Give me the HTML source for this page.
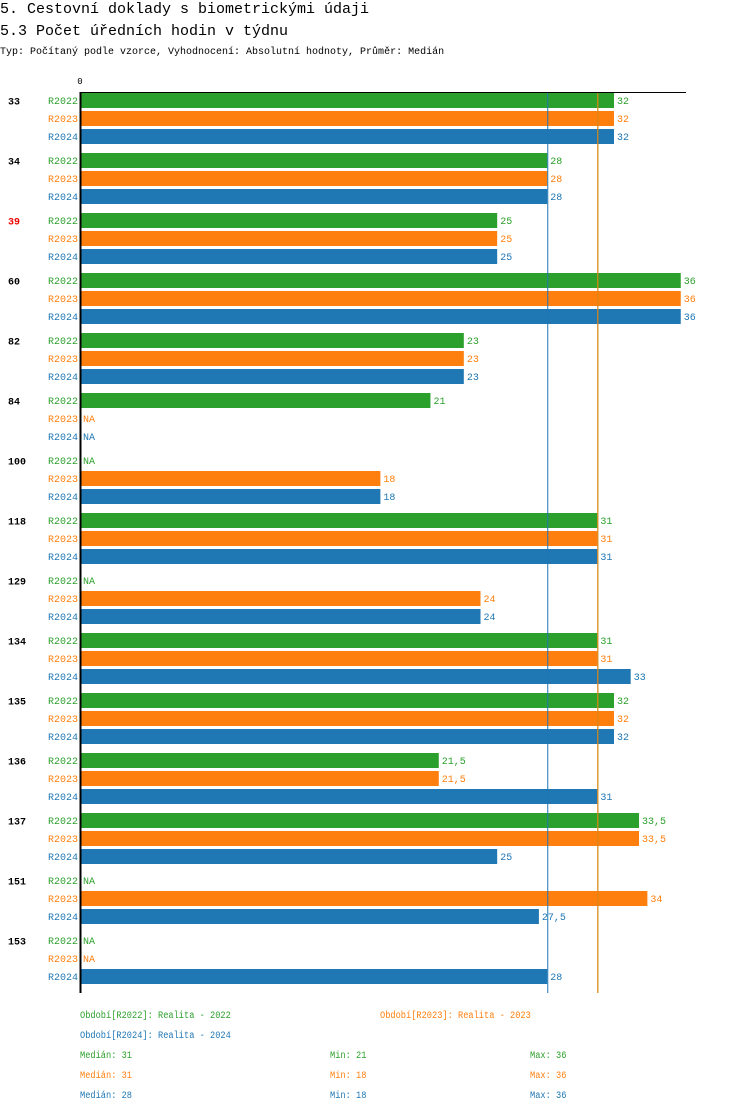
<!DOCTYPE html>
<html><head><meta charset="utf-8">
<style>
html,body{margin:0;padding:0;background:#fff;}
body{width:750px;height:1112px;overflow:hidden;}
svg{display:block;font-family:"Liberation Mono","DejaVu Sans Mono",monospace;}
</style></head>
<body>
<svg id="chart" width="750" height="1112" viewBox="0 0 750 1112">
<text x="0" y="13" font-size="15" fill="#000">5. Cestovní doklady s biometrickými údaji</text>
<text x="0" y="35" font-size="15" fill="#000">5.3 Počet úředních hodin v týdnu</text>
<text x="0" y="54" font-size="10" fill="#000">Typ: Počítaný podle vzorce, Vyhodnocení: Absolutní hodnoty, Průměr: Medián</text>
<text x="80" y="84" font-size="9" text-anchor="middle" fill="#000">0</text>
<g id="marks"></g>
<line x1="80" y1="92.5" x2="686" y2="92.5" stroke="#000" stroke-width="1"/>
<line x1="80.5" y1="92" x2="80.5" y2="993" stroke="#000" stroke-width="2"/>
<g id="legend"></g>
</svg>
<script>
const categories=["33","34","39","60","82","84","100","118","129","134","135","136","137","151","153"];
const highlighted=["39"];
const series=["R2022","R2023","R2024"];
const r2022=[32,28,25,36,23,21,null,31,null,31,32,21.5,33.5,null,null];
const r2023=[32,28,25,36,23,null,18,31,24,31,32,21.5,33.5,34,null];
const r2024=[32,28,25,36,23,null,18,31,24,33,32,31,25,27.5,28];
const medians=[31,31,28];
const mins=[21,18,18];
const maxs=[36,36,36];
const colors=["#2ca02c","#ff7f0e","#1f77b4"];
const NS="http://www.w3.org/2000/svg";
const x0=80, unit=(614-80)/32;
const xs=v=>x0+v*unit;
const rowY=(g,s)=>100.5+g*60+s*18;
const fmt=v=>String(v).replace('.',',');
const marks=document.getElementById('marks');
function mk(tag,attrs){const e=document.createElementNS(NS,tag);for(const k in attrs)e.setAttribute(k,attrs[k]);return e;}
const all=[r2022,r2023,r2024];
categories.forEach((c,g)=>{
  const t=mk('text',{x:8,y:rowY(g,0)+4,'font-size':10,'font-weight':'bold',fill:highlighted.includes(c)?'#e00':'#000'});
  t.textContent=c;
  
  
  marks.appendChild(t);
  series.forEach((s,si)=>{
    const y=rowY(g,si);
    const lab=mk('text',{x:78,y:y+3.5,'font-size':10,'text-anchor':'end',fill:colors[si]});
    lab.textContent=s;
    
    
    marks.appendChild(lab);
    const v=all[si][g];
    let endX=x0;
    if(v!==null){
      const r=mk('rect',{x:x0,y:y-7.5,width:xs(v)-x0,height:15,fill:colors[si]});
      
      
      marks.appendChild(r);
      endX=xs(v);
    }
    const vt=mk('text',{x:endX+3,y:y+3.5,'font-size':10,fill:colors[si]});
    vt.textContent=v===null?'NA':fmt(v);
    
    
    marks.appendChild(vt);
  });
});
[0,1,2].forEach(si=>{
  const l=mk('line',{x1:xs(medians[si])+0.5,x2:xs(medians[si])+0.5,y1:92,y2:993,stroke:colors[si],'stroke-width':1});
  
  
  marks.appendChild(l);
});
const lg=document.getElementById('legend');
function lt(x,y,txt,col){const t=mk('text',{x:x,y:y,fill:col,'font-size':10,textLength:(txt.length*5.2).toFixed(1),lengthAdjust:'spacingAndGlyphs'});t.textContent=txt;
  
  
  lg.appendChild(t);}
lt(80,1018,'Období[R2022]: Realita - 2022',colors[0]);
lt(380,1018,'Období[R2023]: Realita - 2023',colors[1]);
lt(80,1038,'Období[R2024]: Realita - 2024',colors[2]);
[0,1,2].forEach(si=>{
  const y=1058+si*20;
  lt(80,y,'Medián: '+fmt(medians[si]),colors[si]);
  lt(330,y,'Min: '+fmt(mins[si]),colors[si]);
  lt(530,y,'Max: '+fmt(maxs[si]),colors[si]);
});
</script>
</body></html>
